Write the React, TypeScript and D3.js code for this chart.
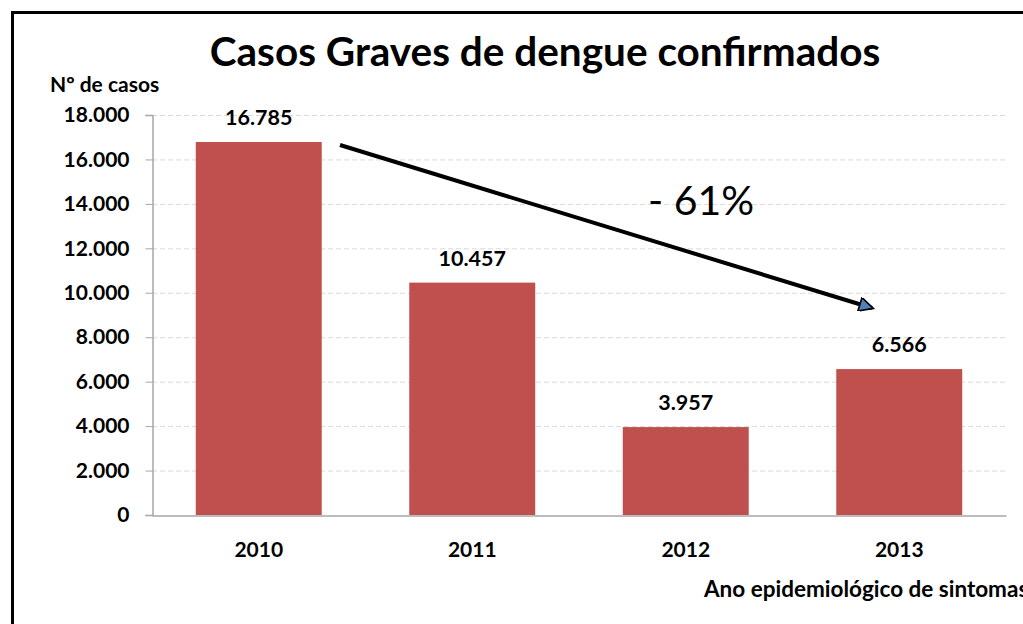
import * as d3 from 'd3';
import { useEffect, useRef } from 'react';

const years = ['2010', '2011', '2012', '2013'];
const casos = [16785, 10457, 3957, 6566];
const yTicks = [0, 2000, 4000, 6000, 8000, 10000, 12000, 14000, 16000, 18000];

const FONT = 'Lato, "Open Sans", sans-serif';

export default function App() {
  const ref = useRef<SVGSVGElement | null>(null);

  useEffect(() => {
    if (!ref.current) return;
    const svg = d3.select(ref.current);
    svg.selectAll('*').remove();

    const width = 1023;
    const height = 624;
    const margin = { top: 115, right: 17, bottom: 109, left: 152 };

    const fmt = d3.formatLocale({ decimal: ',', thousands: '.', grouping: [3], currency: ['R$', ''] }).format(',d');

    svg.append('rect').attr('width', width).attr('height', height).attr('fill', '#fff');

    // frame (right and bottom edges cut off)
    svg
      .append('path')
      .attr('d', `M12.5,${height + 5} V12.5 H${width + 5}`)
      .attr('fill', 'none')
      .attr('stroke', '#000')
      .attr('stroke-width', 3);

    const x = d3
      .scaleBand<string>()
      .domain(years)
      .range([margin.left, width - margin.right])
      .paddingInner(0.41)
      .paddingOuter(0.205);
    const y = d3
      .scaleLinear()
      .domain([0, 18000])
      .range([height - margin.bottom, margin.top]);

    // grid
    svg
      .append('g')
      .selectAll('line')
      .data(yTicks.filter((t) => t > 0))
      .join('line')
      .attr('x1', margin.left)
      .attr('x2', width - margin.right)
      .attr('y1', (d) => y(d) + 0.5)
      .attr('y2', (d) => y(d) + 0.5)
      .attr('stroke', '#d9d9d9')
      .attr('stroke-dasharray', '5,3');

    // bars
    svg
      .append('g')
      .selectAll('rect')
      .data(years)
      .join('rect')
      .attr('x', (d) => x(d) || 0)
      .attr('y', (d, i) => y(casos[i]))
      .attr('width', x.bandwidth())
      .attr('height', (d, i) => y(0) - y(casos[i]))
      .attr('fill', '#C0504D');

    // y axis
    const ya = svg
      .append('g')
      .attr('transform', `translate(${margin.left + 0.5},0)`)
      .call(d3.axisLeft(y).tickValues(yTicks).tickFormat((d) => fmt(d as number)).tickSize(7).tickPadding(16));
    ya.select('.domain').attr('stroke', '#a6a6a6').attr('stroke-width', 1.5);
    ya.selectAll('.tick line').attr('stroke', '#a6a6a6');
    ya.selectAll('text')
      .attr('fill', '#000')
      .style('font-family', FONT)
      .style('font-weight', 'bold')
      .style('font-size', '21px');

    // x axis
    const xa = svg
      .append('g')
      .attr('transform', `translate(0,${y(0) + 0.5})`)
      .call(d3.axisBottom(x).tickSize(0).tickPadding(27));
    xa.select('.domain').attr('stroke', '#a6a6a6').attr('stroke-width', 1.5);
    xa.selectAll('text')
      .attr('fill', '#000')
      .style('font-family', FONT)
      .style('font-weight', 'bold')
      .style('font-size', '21px');

    // value labels
    svg
      .append('g')
      .selectAll('text')
      .data(years)
      .join('text')
      .attr('x', (d) => (x(d) || 0) + x.bandwidth() / 2)
      .attr('y', (d, i) => y(casos[i]) - 17)
      .attr('text-anchor', 'middle')
      .style('font-family', FONT)
      .style('font-weight', 'bold')
      .style('font-size', '21.5px')
      .text((d, i) => fmt(casos[i]));

    // title
    svg
      .append('text')
      .attr('x', 545)
      .attr('y', 66)
      .attr('text-anchor', 'middle')
      .style('font-family', FONT)
      .style('font-weight', 'bold')
      .style('font-size', '40.5px')
      .text('Casos Graves de dengue confirmados');

    svg
      .append('text')
      .attr('x', 50)
      .attr('y', 92)
      .style('font-family', FONT)
      .style('font-weight', 'bold')
      .style('font-size', '21px')
      .text('Nº de casos');

    svg
      .append('text')
      .attr('x', 704)
      .attr('y', 597)
      .style('font-family', FONT)
      .style('font-weight', 'bold')
      .style('font-size', '22.5px')
      .text('Ano epidemiológico de sintomas');

    // trend arrow
    const defs = svg.append('defs');
    defs
      .append('marker')
      .attr('id', 'arrowhead')
      .attr('viewBox', '0 0 10 10')
      .attr('refX', 9)
      .attr('refY', 5)
      .attr('markerWidth', 4.5)
      .attr('markerHeight', 3.5)
      .attr('markerUnits', 'strokeWidth')
      .attr('orient', 'auto')
      .append('path')
      .attr('d', 'M0,0 L10,5 L0,10 Z')
      .attr('fill', '#4F81BD')
      .attr('stroke', '#000')
      .attr('stroke-width', 1.2);

    svg
      .append('line')
      .attr('x1', 340)
      .attr('y1', 145)
      .attr('x2', 872)
      .attr('y2', 308)
      .attr('stroke', '#000')
      .attr('stroke-width', 4)
      .attr('marker-end', 'url(#arrowhead)');

    svg
      .append('text')
      .attr('x', 648)
      .attr('y', 215)
      .style('font-family', FONT)
      .style('font-size', '41px')
      .text('- 61%');
  }, []);

  return (
    <svg
      ref={ref}
      width={1023}
      height={624}
      style={{ position: 'absolute', left: 0, top: 0, display: 'block' }}
      role="img"
      aria-label="Casos Graves de dengue confirmados"
    />
  );
}
